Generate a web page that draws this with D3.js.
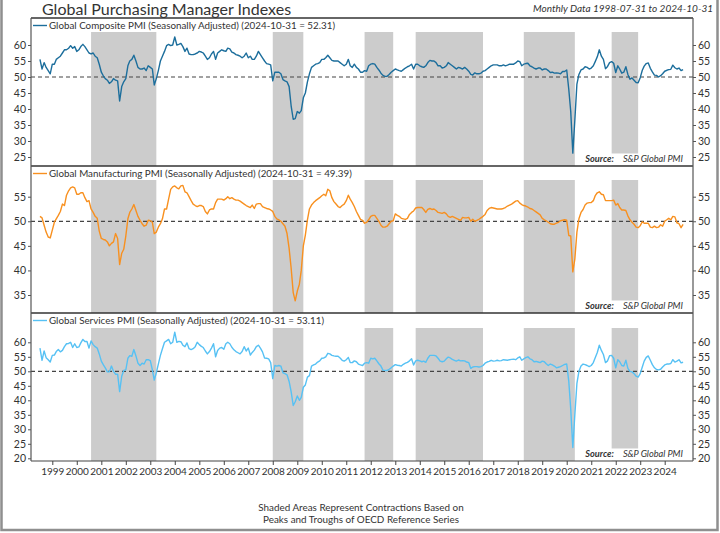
<!DOCTYPE html>
<html>
<head>
<meta charset="utf-8">
<script src="https://cdn.jsdelivr.net/npm/d3@7"></script>
<style>
  body { margin: 0; background: #fff; }
  text { font-family: Lato, "Open Sans", sans-serif; fill: #333; }
</style>
</head>
<body>
<svg id="chart" width="720" height="533"></svg>
<script>
// ---- data (monthly, first value = 1998-07) ----
const firstMonth = "1998-07";

const composite = [
  55.5, 52.5, 54.5, 53, 52, 51,
  54, 54, 55.5, 56, 56.5, 57.5, 58.5, 58.5, 59, 59.8, 59, 59.5,
  58, 58.5, 59.5, 60.2, 59.5, 58.5, 57.5, 57.2, 57.5, 56.5, 56, 54,
  51.5, 50.3, 49.5, 49, 48, 48.5, 49.5, 49, 48.8, 42.5, 47, 48.5,
  49.5, 53.5, 55, 55.5, 56.8, 55, 53, 52.5, 52.5, 52.8, 52, 53.5,
  53, 52.5, 47.5, 49.5, 52, 55, 56.5, 58, 59.8, 60.2, 59.8, 60,
  62.5, 60, 60.2, 60.5, 59.5, 58, 59, 57.2, 57, 57, 57.2, 57.5,
  58, 57.8, 57.5, 56.5, 55.5, 56, 57.2, 58, 55.5, 57.5, 58, 58.5,
  58.2, 58, 59, 58.8, 57.8, 57.5, 57, 56.8, 56.5, 56, 56.5, 57.5,
  56, 56.5, 55.5, 55.5, 56.5, 58, 57, 56, 55, 54.2, 54, 53.8,
  48.8, 51.5, 51.5, 51.5, 51, 49.2, 48.8, 48.5, 47, 41, 36.8, 37,
  39.2, 38.7, 39.5, 43.5, 45, 48.5, 51, 53, 53.5, 54, 54.2, 54.5,
  55.5, 55.5, 56, 56.8, 56, 55.2, 55, 55, 55, 54.5, 54, 53.5,
  54, 55.5, 53.5, 53, 54, 53, 52.5, 51.5, 51.5, 52, 51.8, 53.5,
  54, 54.2, 54, 53, 52.2, 51.2, 50.5, 50.2, 50.2, 50.8, 51.5, 52,
  52.5, 52.2, 52, 51.8, 52.3, 52.8, 53.2, 53.5, 54, 52.5, 54, 54,
  53.5, 53.2, 53, 53.5, 54.5, 55.2, 55, 55, 54.5, 53.5, 53.5, 52.8,
  53, 53.5, 54.5, 54, 53.5, 53, 52.5, 53, 52.8, 52.5, 53, 52.5,
  51.8, 50.8, 50.6, 51.3, 51, 51, 51.2, 51.8, 52, 52.5, 53, 53.5,
  53.8, 53.8, 53.8, 53.5, 53.5, 53.8, 53.5, 53.7, 54, 54, 54, 54.4,
  55, 54.8, 53.5, 54, 54.2, 54.3, 53.5, 53.2, 52.8, 52.5, 52.8, 52.8,
  52.2, 52.5, 52.5, 52, 51.4, 51.5, 51.2, 51.3, 51.2, 51, 51.7, 51.7,
  52.2, 46.1, 39.2, 26.2, 36.5, 47.8, 50.8, 52.2, 52.5, 53.2, 53, 52.5,
  52.8, 53.5, 54.8, 56.3, 58.5, 56.5, 55.5, 52.6, 53.3, 54.5, 54.8, 54.3,
  51.4, 53.5, 52.5, 51.2, 51.5, 53.2, 50.8, 49.3, 49.7, 49, 48.3, 48.2,
  49.8, 52.1, 53.4, 54.2, 54.4, 52.7, 51.6, 50.6, 50.5, 50, 50.4, 51,
  51.8, 52.1, 52.3, 52.4, 53.7, 52.9, 52.5, 52.8, 52, 52.31
];

const manufacturing = [
  51, 50.7, 49.2, 47.8, 46.8, 46.6,
  48.2, 49.8, 50.5, 51.2, 52, 53.5, 53.2, 55.3, 56.2, 56.8, 57, 56.8,
  55.5, 55.5, 55.8, 55.8, 54.8, 54, 54.2, 52.5, 51.8, 51, 50.6, 48,
  46.5, 46.3, 46.2, 45.8, 45, 45.5, 45.8, 47.5, 46.5, 41.2, 43.5, 44.3,
  47, 50.5, 51.8, 52.5, 53.4, 52.2, 51, 50.2, 49.5, 49, 49.2, 50.2,
  50.1, 49.8, 47.5, 47.8, 48.8, 49.5, 50.5, 52.5, 52.5, 54.5, 56.5, 57,
  57.2, 56.8, 56.6, 57.2, 57.3, 56, 55.8, 55, 54.2, 53.5, 53.2, 53,
  53.2, 53.2, 53, 52, 51.5, 52.3, 52.5, 52.5, 53.8, 54.5, 54.5, 54.5,
  54.3, 54.6, 55, 54.6, 54.8, 54.5, 54.3, 54.3, 54.1, 53.8, 53.5, 53.2,
  53, 52.8, 53.3, 52.6, 53.5, 53.6, 53.6, 53, 52.8, 52.6, 52.5, 52.3,
  52, 51, 50.5, 50.3, 50, 49.5, 49, 47.5, 44.5, 40.5, 35.5, 33.8,
  35.8, 37.2, 40, 45, 47.2, 50.3, 52.5, 53.3, 53.8, 54.2, 54.5, 54.8,
  55.2, 55.5, 55.2, 56.5, 56.2, 54.8, 54, 53.5, 53, 52.8, 53.2, 53.5,
  54.2, 55.3, 54.5, 53.8, 53, 52, 51.2, 50.4, 50.2, 49.6, 49.8, 50.3,
  51, 51.2, 51.2, 50.6, 50, 49.2, 48.8, 48.8, 49, 49.5, 50, 50.1,
  51.5, 51.2, 51, 50.6, 50.5, 50.4, 50.6, 51.4, 51.8, 52.1, 52.7, 52.8,
  52.8, 52.8, 52.4, 51.8, 52.4, 52.6, 52.4, 52.5, 52.2, 51.8, 51.7, 51.6,
  51.8, 51.5, 51, 50.8, 51, 50.8, 50.6, 50.4, 50.2, 50.8, 50.7, 50.7,
  50.8, 50, 50.4, 50, 50.2, 50.4, 50.7, 51, 51.4, 52.2, 52.6, 52.8,
  52.7, 52.6, 52.5, 52.5, 52.5, 52.6, 52.8, 53.1, 53.3, 53.5, 53.8, 54.1,
  54.2, 53.7, 53.4, 53.2, 53.1, 52.9, 52.6, 52.5, 52.2, 51.9, 51.6, 51.3,
  50.6, 50.3, 50.1, 49.8, 49.5, 49.4, 49.4, 49.6, 49.8, 50.1, 50.2, 50.3,
  50.2, 47.1, 47, 39.7, 42.3, 47.8, 50.5, 51.8, 52.4, 53.3, 53.7, 53.8,
  53.8, 54.2, 55.2, 55.8, 56, 55.5, 55.4, 54.2, 54.2, 54.2, 54.2, 54.3,
  53.3, 53.6, 52.8, 52.3, 52.3, 52.2, 51.1, 50.3, 49.8, 49.4, 48.8, 48.7,
  49.1, 49.9, 49.6, 49.6, 49.6, 48.8, 48.7, 49, 48.7, 48.8, 49.3, 49,
  50, 50.3, 50.6, 50.3, 51, 50.9, 49.7, 49.5, 48.7, 49.39
];

const services = [
  58, 53.8, 57, 54.7, 54, 53.2,
  55.5, 55.6, 56.8, 57.5, 56.7, 57.2, 58.5, 59.5, 59.6, 60, 58.2, 59.5,
  58.2, 58.4, 59.8, 61, 60.3, 60.3, 58, 60.5, 59.2, 58.5, 58, 56,
  53.5, 52.2, 51.2, 49.8, 49.8, 51.8, 50, 49, 49, 43, 48.3, 50.3,
  50.5, 54.5, 55.4, 55.2, 57.5, 55.3, 52.8, 52, 52.8, 52.5, 54, 54,
  53.7, 50.5, 47, 49.5, 52.5, 55.5, 57.8, 60, 60.5, 61, 59.5, 60,
  63.5, 60, 60.3, 60.2, 59, 58.5, 59.8, 57.8, 57.5, 57.8, 58.5, 60,
  59.2, 58.6, 58.2, 57, 56, 56.8, 58, 59.5, 55, 57.2, 58, 58.2,
  57.6, 59.5, 60, 59.5, 58.3, 57.4, 56.8, 56.4, 56, 56.8, 58.5, 57,
  58, 55.6, 56.5, 57.3, 58.5, 59, 58, 56.7, 54.6, 54.5, 54.3, 53,
  47.5, 52, 51.8, 52, 51.8, 49.5, 49.2, 48.8, 46.5, 43, 38.2, 39.5,
  41.5, 40, 41, 44.5, 45.3, 48, 48.5, 51.8, 52.2, 52.5, 53.2, 53.6,
  54.5, 54.6, 55, 56.2, 56, 55.5, 55.3, 55.2, 55.2, 54.6, 53.8, 53.5,
  54, 54.8, 53, 53, 53.6, 53.3, 52.5, 52.2, 52, 52.8, 53, 52.8,
  54.5, 54.3, 54.5, 53.6, 52.6, 51.8, 50.4, 50.3, 50.3, 50.7, 51.2, 51.8,
  52.3, 52.1, 52, 51.8, 52.4, 52.8, 53.1, 53.6, 54.3, 52.2, 53.6, 53.8,
  53.6, 53.3, 53.5, 53.1, 54.5, 55.5, 55.5, 55.5, 55.3, 54.5, 53.5, 53.3,
  53.5, 54.3, 54.9, 54.6, 54.1, 53.8, 53.5, 53.9, 53.6, 53.7, 53.6, 53.2,
  53, 51, 51.5, 51.6, 51.6, 51.5, 51.6, 52, 52.8, 53.2, 53.4, 53.8,
  53.5, 53.6, 53.8, 53.6, 53.7, 54, 53.9, 53.8, 54, 54.1, 54.2, 54,
  54.6, 55, 53.8, 54.3, 54.7, 55, 54.3, 54, 53.3, 53.4, 53.2, 53,
  53.5, 53.3, 52.6, 52, 52.5, 52.2, 51.8, 51.2, 51.4, 51.6, 52, 52.4,
  52.5, 46.5, 37, 23.7, 35, 45.8, 50, 51.8, 52.5, 52.3, 52, 51.6,
  52, 53, 54.7, 56.5, 59, 57.2, 55.8, 53, 53.6, 55.4, 55.5, 54.5,
  51.2, 54, 53.3, 52, 51.8, 53.8, 51, 50, 49.8, 49.2, 48.3, 48,
  49.2, 51.5, 53.5, 54.8, 55.3, 53.8, 52.3, 51.2, 50.6, 50.5, 50.7, 51.5,
  52.2, 52.5, 52.5, 52.7, 54, 53.2, 53.5, 54, 52.9, 53.11
];

// OECD contraction periods [start, end]
const contractions = [
  ["2000-08", "2003-04"],
  ["2008-01", "2009-04"],
  ["2011-10", "2012-12"],
  ["2013-11", "2016-08"],
  ["2018-04", "2020-05"],
  ["2021-11", "2022-12"]
];

const legendLabels = [
  "Global Composite PMI (Seasonally Adjusted) (2024-10-31 = 52.31)",
  "Global Manufacturing PMI (Seasonally Adjusted) (2024-10-31 = 49.39)",
  "Global Services PMI (Seasonally Adjusted) (2024-10-31 = 53.11)"
];

const ticksComposite = [25, 30, 35, 40, 45, 50, 55, 60];
const ticksManufacturing = [35, 40, 45, 50, 55];
const ticksServices = [20, 25, 30, 35, 40, 45, 50, 55, 60];

// ---- layout ----
const svg = d3.select("#chart");
const left = 31, right = 693;
const parseMonth = d3.timeParse("%Y-%m");
const months = d3.timeMonth.range(parseMonth(firstMonth), d3.timeMonth.offset(parseMonth(firstMonth), composite.length));

const x = d3.scaleTime()
  .domain([new Date(1999, 0, 1), new Date(2024, 0, 1)])
  .range([52.3, 664.7]);

const panels = [
  { values: composite, color: "#1c6e9c", label: legendLabels[0], ticks: ticksComposite,
    top: 18, bottom: 166, shadeTop: 32, dom: [25, 60], rng: [157, 45], sourceY: 161.5 },
  { values: manufacturing, color: "#f8901f", label: legendLabels[1], ticks: ticksManufacturing,
    top: 166, bottom: 313, shadeTop: 180, dom: [35, 55], rng: [295, 196.7], sourceY: 308.5 },
  { values: services, color: "#56c1f4", label: legendLabels[2], ticks: ticksServices,
    top: 313, bottom: 461, shadeTop: 328, dom: [20, 60], rng: [458.3, 342.3], sourceY: 456.5 }
];

// outer frame
svg.append("rect")
  .attr("x", 1.5).attr("y", -4).attr("width", 716).attr("height", 534)
  .attr("fill", "none").attr("stroke", "#8f8f8f").attr("stroke-width", 2.5);

// title
svg.append("text").attr("x", 42).attr("y", 15)
  .attr("font-size", 16).text("Global Purchasing Manager Indexes");
svg.append("text").attr("x", 713).attr("y", 12)
  .attr("font-size", 10).attr("font-style", "italic").attr("text-anchor", "end")
  .text("Monthly Data 1998-07-31 to 2024-10-31");

panels.forEach((p, i) => {
  const y = d3.scaleLinear().domain(p.dom).range(p.rng);
  const g = svg.append("g");

  const clipId = "clip" + i;
  svg.append("clipPath").attr("id", clipId)
    .append("rect").attr("x", left).attr("y", p.top).attr("width", right - left).attr("height", p.bottom - p.top);

  // shaded contractions
  g.selectAll("rect.shade")
    .data(contractions)
    .enter().append("rect")
    .attr("class", "shade")
    .attr("x", d => x(parseMonth(d[0])))
    .attr("width", d => x(parseMonth(d[1])) - x(parseMonth(d[0])))
    .attr("y", p.shadeTop)
    .attr("height", p.bottom - p.shadeTop)
    .attr("fill", "#cccccc");

  // 50 line
  g.append("line")
    .attr("x1", left).attr("x2", right)
    .attr("y1", y(50)).attr("y2", y(50))
    .attr("stroke", "#444").attr("stroke-width", 1.2).attr("stroke-dasharray", "4,3");

  // series line
  const line = d3.line()
    .x((d, j) => x(months[j]))
    .y(d => y(d));
  g.append("path")
    .datum(p.values)
    .attr("clip-path", `url(#${clipId})`)
    .attr("d", line)
    .attr("fill", "none")
    .attr("stroke", p.color)
    .attr("stroke-width", 1.4)
    .attr("stroke-linejoin", "round");

  // axes
  const yl = d3.axisLeft(y).tickValues(p.ticks).tickSize(3).tickPadding(2);
  const yr = d3.axisRight(y).tickValues(p.ticks).tickSize(3).tickPadding(2);
  [[yl, left], [yr, right]].forEach(([ax, pos]) => {
    const a = svg.append("g").attr("transform", `translate(${pos},0)`).call(ax);
    a.select(".domain").remove();
    a.selectAll("line").attr("stroke", "#555");
    a.selectAll("text").attr("font-size", 10.5).attr("font-family", "Lato").attr("fill", "#333");
  });

  // legend
  svg.append("line")
    .attr("x1", 33).attr("x2", 47).attr("y1", p.top + 7.5).attr("y2", p.top + 7.5)
    .attr("stroke", p.color).attr("stroke-width", 1.4);
  svg.append("text").attr("x", 49).attr("y", p.top + 11)
    .attr("font-size", 9.8).text(p.label);

  // source
  svg.append("rect").attr("x", 590).attr("y", p.sourceY - 8).attr("width", 96).attr("height", p.bottom - p.sourceY + 7.5)
    .attr("fill", "#fff");
  const src = svg.append("text").attr("x", 683).attr("y", p.sourceY)
    .attr("font-size", 9.2).attr("font-style", "italic").attr("text-anchor", "end");
  src.append("tspan").attr("font-weight", "bold").text("Source:");
  src.append("tspan").attr("dx", 9).text("S&P Global PMI");

  // panel borders
  svg.append("line").attr("x1", left).attr("x2", right).attr("y1", p.top).attr("y2", p.top)
    .attr("stroke", "#333").attr("stroke-width", 1.5);
});

svg.append("line").attr("x1", left).attr("x2", right).attr("y1", 461).attr("y2", 461)
  .attr("stroke", "#444").attr("stroke-width", 1.2);
[left, right].forEach(px => {
  svg.append("line").attr("x1", px).attr("x2", px).attr("y1", 18).attr("y2", 461)
    .attr("stroke", "#555").attr("stroke-width", 1.2);
});

// x axis
const xa = svg.append("g").attr("transform", "translate(0,461)")
  .call(d3.axisBottom(x).ticks(d3.timeYear.every(1)).tickFormat(d3.timeFormat("%Y")).tickSize(4).tickPadding(3));
xa.select(".domain").remove();
xa.selectAll("line").attr("stroke", "#444");
xa.selectAll("text").attr("font-size", 10).attr("font-family", "Lato").attr("fill", "#333");

// footer
svg.append("text").attr("x", 361).attr("y", 510.5).attr("text-anchor", "middle")
  .attr("font-size", 9.9).text("Shaded Areas Represent Contractions Based on");
svg.append("text").attr("x", 361).attr("y", 522.5).attr("text-anchor", "middle")
  .attr("font-size", 9.9).text("Peaks and Troughs of OECD Reference Series");
</script>
</body>
</html>
